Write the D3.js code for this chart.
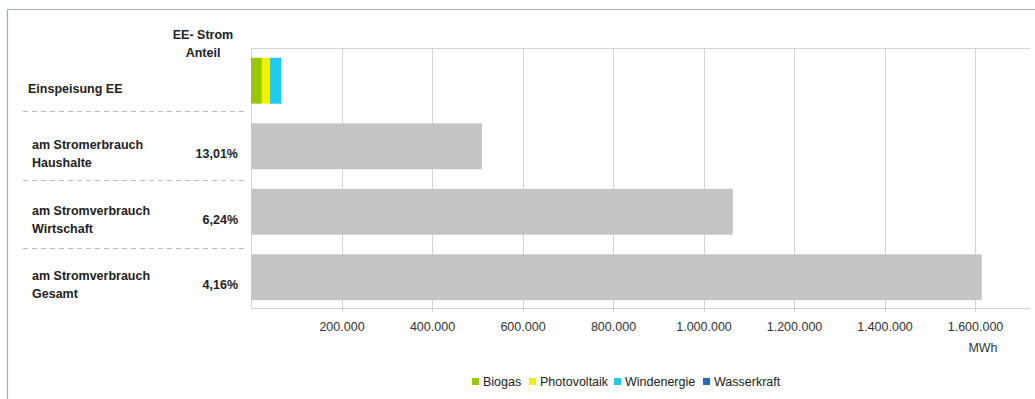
<!DOCTYPE html>
<html>
<head>
<meta charset="utf-8">
<script src="https://cdn.jsdelivr.net/npm/d3@7"></script>
<style>
  html, body { margin: 0; padding: 0; background: #fff; }
  svg { display: block; font-family: "Liberation Sans", Arial, sans-serif; }
</style>
</head>
<body>
<svg id="chart" width="1035" height="399"></svg>
<script>
// ---- data ----
const categories = ["Einspeisung EE", "Haushalte", "Wirtschaft", "Gesamt"];
const labelLines = [["Einspeisung EE"], ["am Stromerbrauch", "Haushalte"], ["am Stromverbrauch", "Wirtschaft"], ["am Stromverbrauch", "Gesamt"]];
const shareLabels = ["", "13,01%", "6,24%", "4,16%"];
const consumption = [0, 510500, 1064600, 1614800];
const sources = ["Biogas", "Photovoltaik", "Windenergie", "Wasserkraft"];
const sourceColors = ["#99c800", "#f2f200", "#22c8ee", "#1f6db4"];
const feedIn = [24000, 18000, 24500, 300];
const tickValues = [200000, 400000, 600000, 800000, 1000000, 1200000, 1400000, 1600000];
const unitLabel = "MWh";
const headerLines = ["EE- Strom", "Anteil"];

// ---- layout ----
const svg = d3.select("#chart");
const plotLeft = 251, plotRight = 1030, plotTop = 48, plotBottom = 308;
const x = d3.scaleLinear().domain([0, 1600000]).range([plotLeft, 975]);
const y = d3.scaleBand().domain(categories).range([plotTop, 310]).paddingInner(0.3).paddingOuter(0.15);
const yLab = d3.scaleBand().domain(categories).range([plotTop + 8, 318]);
const de = d3.formatLocale({ decimal: ",", thousands: ".", grouping: [3], currency: ["", "€"] });
const fmt = de.format(",d");

// outer frame
svg.append("path").attr("d", "M7.5,399 V9.5 H1035").attr("fill", "none").attr("stroke", "#9fb0c2").attr("stroke-width", 1.2);

// gridlines
svg.append("g").selectAll("line").data(tickValues).join("line")
  .attr("x1", d => Math.round(x(d)) + 0.5).attr("x2", d => Math.round(x(d)) + 0.5)
  .attr("y1", plotTop).attr("y2", plotBottom + 4)
  .attr("stroke", "#d4d4d4").attr("stroke-width", 1);
// plot top line and left line
svg.append("line").attr("x1", plotLeft).attr("x2", plotRight).attr("y1", plotTop + 0.5).attr("y2", plotTop + 0.5).attr("stroke", "#d4d4d4");
svg.append("line").attr("x1", plotLeft + 0.5).attr("x2", plotLeft + 0.5).attr("y1", plotTop).attr("y2", plotBottom).attr("stroke", "#d4d4d4");

// consumption bars
svg.append("g").selectAll("rect").data(categories.slice(1)).join("rect")
  .attr("x", x(0))
  .attr("y", d => y(d))
  .attr("width", (d, i) => x(consumption[i + 1]) - x(0))
  .attr("height", y.bandwidth())
  .attr("fill", "#c4c4c4");

// stacked feed-in bar
let acc = 0;
const stackData = feedIn.map((v, i) => { const s = { x0: acc, x1: acc + v, c: sourceColors[i] }; acc += v; return s; });
svg.append("g").selectAll("rect").data(stackData).join("rect")
  .attr("x", d => x(d.x0))
  .attr("y", y(categories[0]))
  .attr("width", d => x(d.x1) - x(d.x0))
  .attr("height", y.bandwidth())
  .attr("fill", d => d.c);

// x axis
const axis = d3.axisBottom(x).tickValues(tickValues).tickFormat(fmt).tickSize(0).tickPadding(14);
const gx = svg.append("g").attr("transform", `translate(0,${plotBottom})`).call(axis);
gx.select(".domain").remove();
gx.selectAll("text").attr("font-size", 12.5).attr("fill", "#333").attr("font-family", "Liberation Sans, Arial, sans-serif");
svg.append("line").attr("x1", plotLeft).attr("x2", plotRight).attr("y1", plotBottom + 0.5).attr("y2", plotBottom + 0.5).attr("stroke", "#cfcfcf");
svg.append("text").attr("x", 983).attr("y", 352).attr("text-anchor", "middle")
  .attr("font-size", 12.5).attr("fill", "#333").text(unitLabel);

// header
svg.append("g").selectAll("text").data(headerLines).join("text")
  .attr("x", 203).attr("y", (d, i) => 39 + i * 18).attr("text-anchor", "middle")
  .attr("font-size", 12.5).attr("font-weight", "bold").attr("fill", "#222").text(d => d);

// row labels
const rows = svg.append("g").selectAll("g").data(categories).join("g");
rows.each(function (c, i) {
  const g = d3.select(this);
  const cy = yLab(c) + yLab.bandwidth() / 2;
  const lines = labelLines[i];
  const lx = i === 0 ? 28 : 32;
  lines.forEach((t, j) => {
    g.append("text").attr("x", lx).attr("y", cy + (j - (lines.length - 1) / 2) * 18 + 4)
      .attr("font-size", 12.5).attr("font-weight", "bold").attr("fill", "#222").text(t);
  });
  if (shareLabels[i]) {
    g.append("text").attr("x", 238).attr("y", cy + 4).attr("text-anchor", "end")
      .attr("font-size", 12.5).attr("font-weight", "bold").attr("fill", "#222").text(shareLabels[i]);
  }
  if (i < categories.length - 1) {
    const dy = Math.round(yLab(c) + 55 + i * 3) + 0.5;
    g.append("line").attr("x1", 23).attr("x2", 244).attr("y1", dy).attr("y2", dy)
      .attr("stroke", "#bdbdbd").attr("stroke-dasharray", "5,4");
  }
});

// legend
const legendX = [472, 529, 614, 703];
const lg = svg.append("g").selectAll("g").data(sources).join("g")
  .attr("transform", (d, i) => `translate(${legendX[i]},382)`);
lg.append("rect").attr("x", 0).attr("y", -4).attr("width", 7).attr("height", 7).attr("fill", (d, i) => sourceColors[i]);
lg.append("text").attr("x", 11).attr("y", 4).attr("font-size", 12.5).attr("fill", "#222").text(d => d);
</script>
</body>
</html>
